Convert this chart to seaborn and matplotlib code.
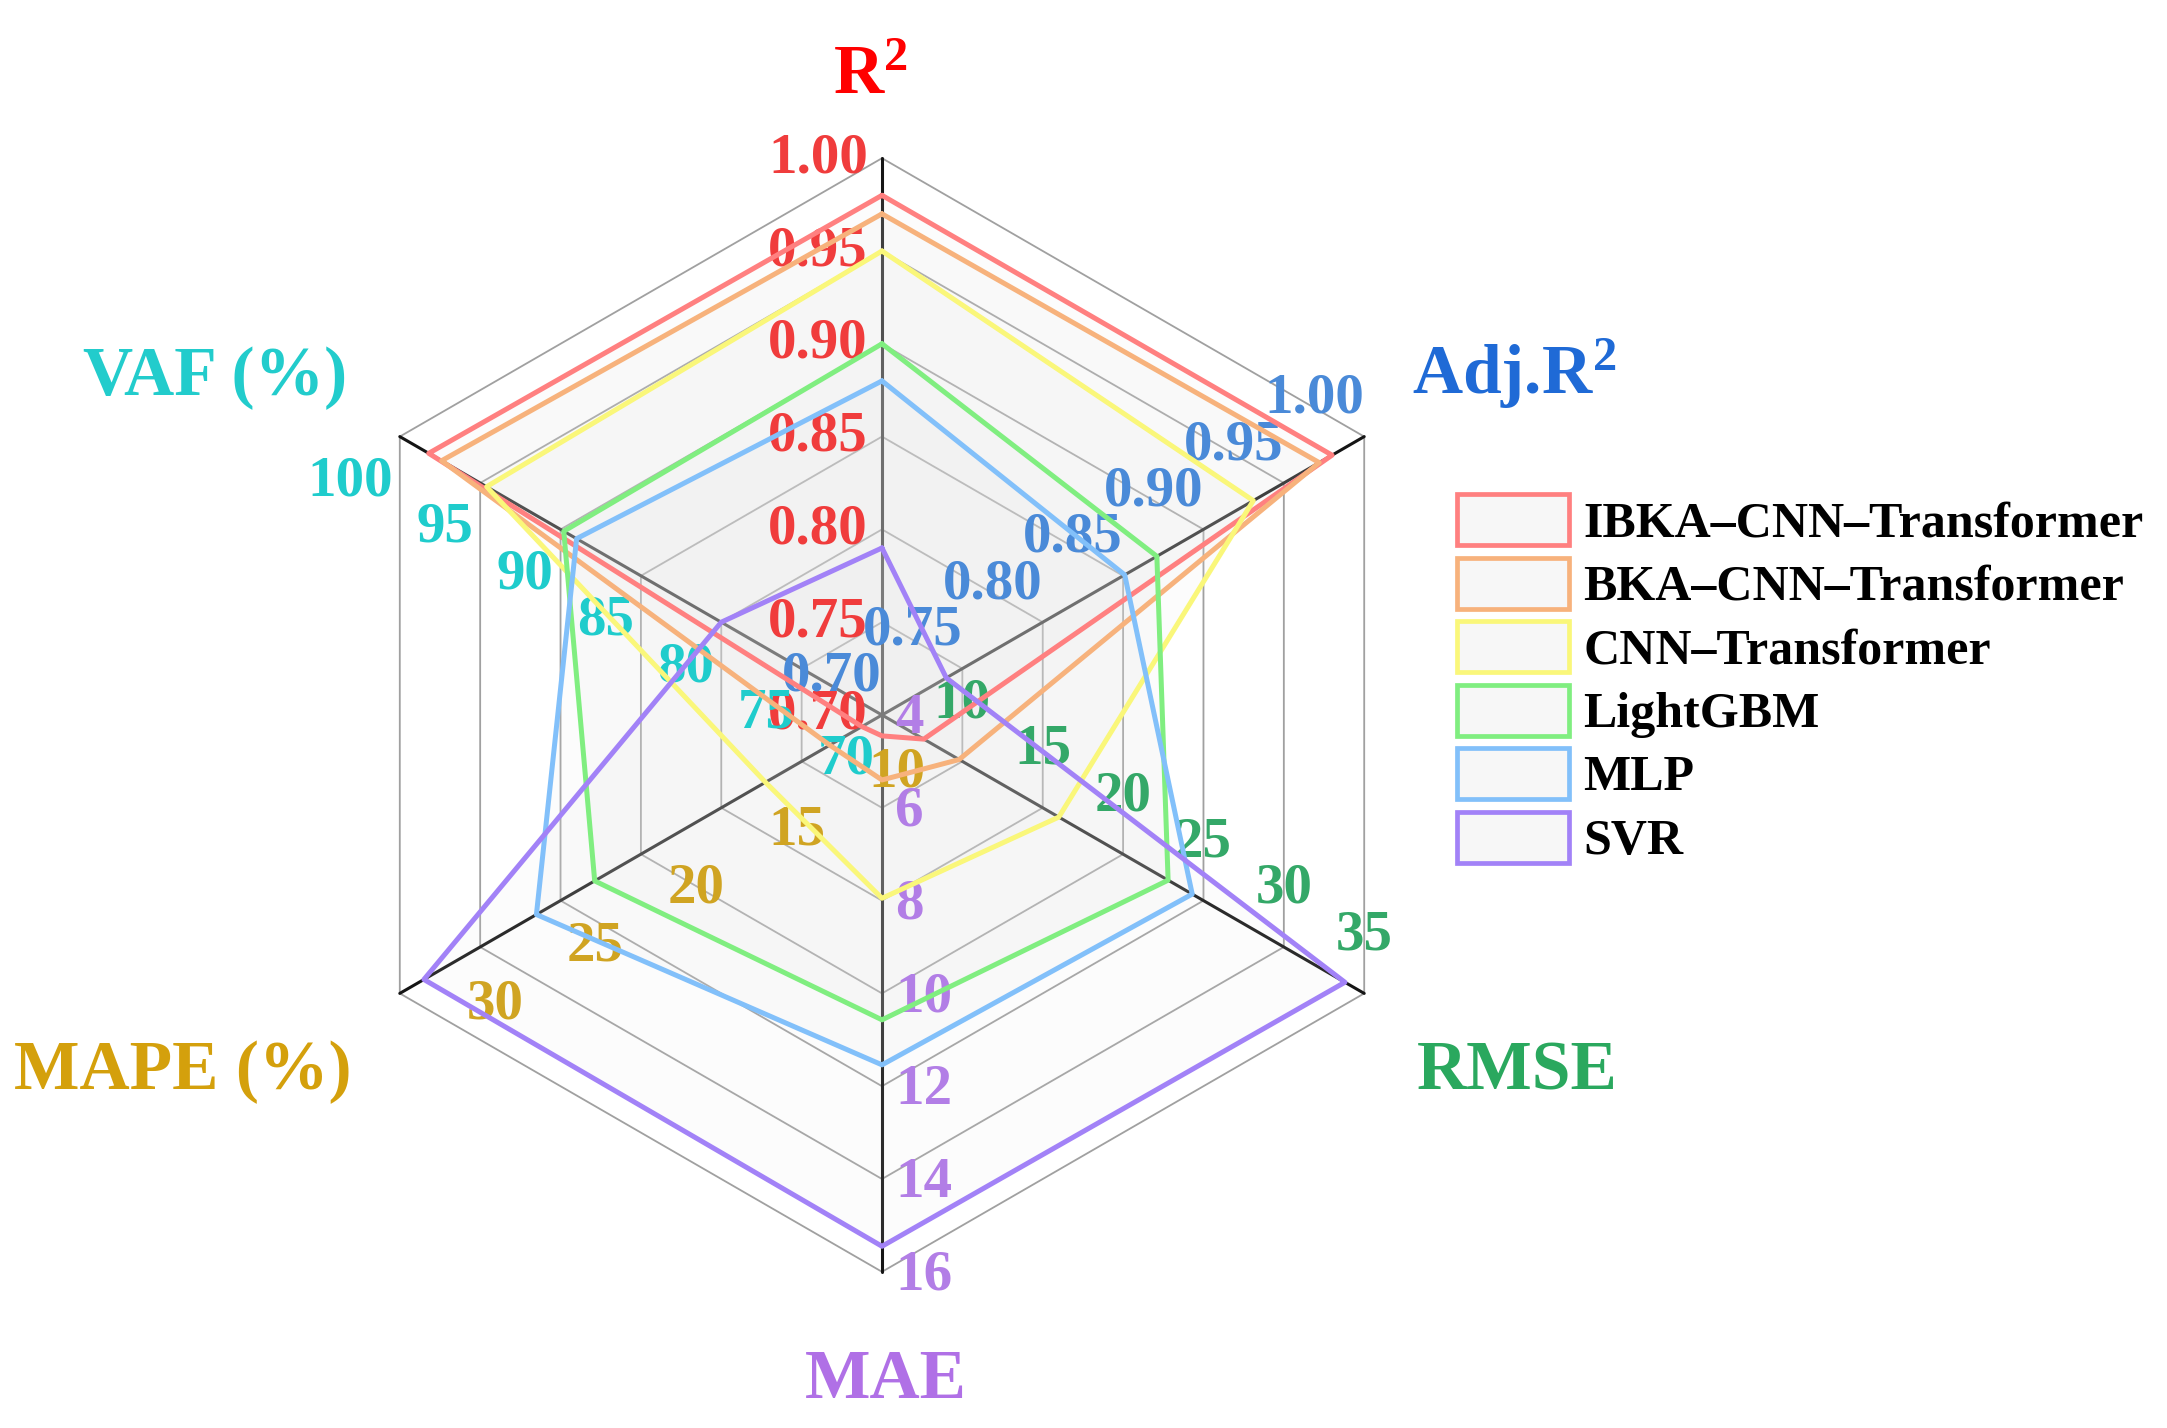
import numpy as np
import pandas as pd
import matplotlib
matplotlib.use("Agg")
import matplotlib.pyplot as plt
import seaborn as sns
from matplotlib.patches import Patch

# ---- data ----
metrics = [r"$\mathbf{R^2}$", r"Adj.R$^\mathbf{2}$", "RMSE", "MAE", "MAPE (%)", "VAF (%)"]
angles_deg = [90, 30, -30, -90, -150, 150]
axis_min = [0.70, 0.70, 5, 4, 10, 70]
axis_max = [1.00, 1.00, 35, 16, 34, 100]
r2_ticks = [0.70, 0.75, 0.80, 0.85, 0.90, 0.95, 1.00]
adj_ticks = [0.70, 0.75, 0.80, 0.85, 0.90, 0.95, 1.00]
rmse_ticks = [10, 15, 20, 25, 30, 35]
mae_ticks = [4, 6, 8, 10, 12, 14, 16]
mape_ticks = [10, 15, 20, 25, 30]
vaf_ticks = [70, 75, 80, 85, 90, 95, 100]

models = ["IBKA–CNN–Transformer", "BKA–CNN–Transformer", "CNN–Transformer",
          "LightGBM", "MLP", "SVR"]
r2 = [0.98, 0.97, 0.95, 0.90, 0.88, 0.79]
adj_r2 = [0.98, 0.972, 0.931, 0.871, 0.851, 0.74]
rmse = [7.6, 9.8, 16.0, 22.8, 24.3, 33.8]
mae = [4.45, 5.4, 7.95, 10.57, 11.54, 15.45]
mape = [11.0, 12.6, 15.8, 24.3, 27.2, 32.8]
vaf = [98.2, 97.4, 94.6, 89.8, 89.0, 80.0]

line_colors = ["#ff8080", "#f7b27c", "#faf77a", "#80ee80", "#82c0fa", "#a282f7"]
title_colors = ["#ff0000", "#1f6ad6", "#2aa85e", "#b070e6", "#d4a00c", "#22cccc"]
tick_colors = ["#f03c3c", "#4a8ad8", "#34a868", "#b27ee6", "#d0a422", "#1fcccc"]

RINGS = 6


def to_xy(values):
    """map one value per metric onto the hexagon (ring units)"""
    xs, ys = [], []
    for v, lo, hi, a in zip(values, axis_min, axis_max, angles_deg):
        r = RINGS * (v - lo) / (hi - lo)
        xs.append(r * np.cos(np.radians(a)))
        ys.append(r * np.sin(np.radians(a)))
    return xs, ys


sns.set_theme(style="white")
plt.rcParams["font.family"] = ["Liberation Serif", "DejaVu Serif"]
plt.rcParams["font.weight"] = "bold"
plt.rcParams["text.color"] = "black"
plt.rcParams["mathtext.fontset"] = "custom"
plt.rcParams["mathtext.rm"] = "Liberation Serif"
plt.rcParams["mathtext.bf"] = "Liberation Serif:bold"
plt.rcParams["mathtext.it"] = "Liberation Serif:italic:bold"

W, H = 2167, 1428
cx, cy, ring_px = 882, 715, 92.8
fig = plt.figure(figsize=(W / 100, H / 100), dpi=100)
ax = fig.add_axes([0, 0, 1, 1])

# hexagon rings + spokes
th = np.radians(angles_deg + [angles_deg[0]])
for k in range(1, RINGS + 1):
    ax.plot(k * np.cos(th), k * np.sin(th), color="#a0a0a0", lw=1.3, zorder=1)
for a in angles_deg:
    ax.plot([0, RINGS * np.cos(np.radians(a))], [0, RINGS * np.sin(np.radians(a))],
            color="#151515", lw=2.2, zorder=1.5)

# tick labels
all_ticks = [r2_ticks, adj_ticks, rmse_ticks, mae_ticks, mape_ticks, vaf_ticks]
fmts = ["{:.2f}", "{:.2f}", "{:g}", "{:g}", "{:g}", "{:g}"]
offsets = [(-14, 0, "right"), (-50, 38, "center"), (0, 58, "center"),
           (13, -4, "left"), (15, -58, "center"), (-7, -45, "right")]
for i, ticks in enumerate(all_ticks):
    a = np.radians(angles_deg[i])
    dx, dy, ha = offsets[i]
    for t in ticks:
        r = RINGS * (t - axis_min[i]) / (axis_max[i] - axis_min[i])
        ax.annotate(fmts[i].format(t), xy=(r * np.cos(a), r * np.sin(a)),
                    xytext=(dx, dy), textcoords="offset pixels", ha=ha, va="center",
                    fontsize=41, fontweight="bold", color=tick_colors[i], zorder=3)

# axis titles
title_pos = [(-0.12, 6.69), (6.81, 3.46), (6.85, -4.04), (0.04, -7.36),
             (-7.54, -4.03), (-7.19, 3.45)]
for name, (tx, ty), c in zip(metrics, title_pos, title_colors):
    ax.text(tx, ty, name, ha="center", va="baseline", fontsize=50,
            fontweight="bold", color=c, zorder=5)

# series
table = pd.DataFrame({"model": models, "R2": r2, "AdjR2": adj_r2, "RMSE": rmse,
                      "MAE": mae, "MAPE": mape, "VAF": vaf})
for i, row in table.iterrows():
    xs, ys = to_xy(row[["R2", "AdjR2", "RMSE", "MAE", "MAPE", "VAF"]].tolist())
    ax.fill(xs, ys, color="#e4e4e4", alpha=0.11, lw=0, zorder=2)
    poly = pd.DataFrame({"x": xs + xs[:1], "y": ys + ys[:1]})
    sns.lineplot(data=poly, x="x", y="y", sort=False, estimator=None, ax=ax,
                 color=line_colors[i], lw=3.6, zorder=4 + i * 0.1, legend=False)

ax.set_xlim(-cx / ring_px, (W - cx) / ring_px)
ax.set_ylim((cy - H) / ring_px, cy / ring_px)
ax.axis("off")

handles = [Patch(facecolor="#f7f7f7", edgecolor=c, linewidth=3.4) for c in line_colors]
leg = ax.legend(handles, models, loc="upper left", bbox_to_anchor=(1457 / W, 1 - 494 / H),
                bbox_transform=fig.transFigure, frameon=False,
                prop={"family": "Liberation Serif", "weight": "bold", "size": 36},
                handlelength=2.24, handleheight=1.2, labelspacing=0.2,
                handletextpad=0.28, borderpad=0, borderaxespad=0)
for txt in leg.get_texts():
    txt.set_color("black")

fig.savefig("out.png", dpi=100, facecolor="white")
